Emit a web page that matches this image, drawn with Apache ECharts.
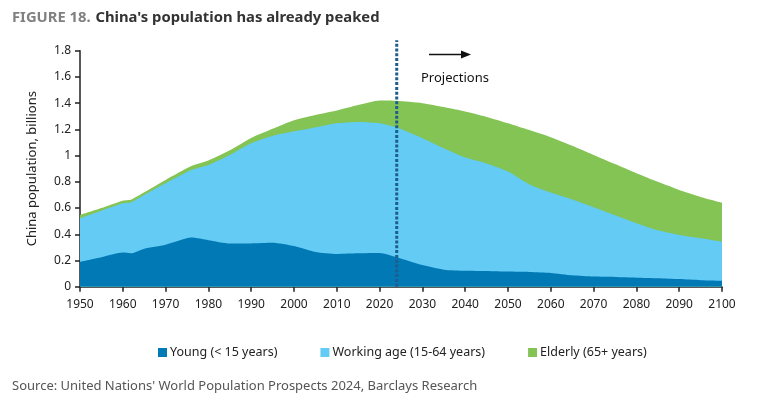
<!DOCTYPE html>
<html>
<head>
<meta charset="utf-8">
<script src="https://cdn.jsdelivr.net/npm/echarts@6/dist/echarts.min.js"></script>
<style>
  html, body { margin: 0; padding: 0; background: #fff; }
  #chart { width: 758px; height: 404px; }
</style>
</head>
<body>
<div id="chart"></div>
<script>
// values, billions
const years = [1950, 1955, 1960, 1962, 1965, 1970, 1976, 1980, 1985, 1990, 1995, 2000, 2005, 2010, 2015, 2020, 2024,
  2030, 2035, 2040, 2045, 2050, 2055, 2060, 2065, 2070, 2075, 2080, 2085, 2090, 2095, 2100];
const young = [0.19, 0.225, 0.26, 0.255, 0.29, 0.32, 0.375, 0.355, 0.33, 0.33, 0.335, 0.31, 0.265, 0.25, 0.255, 0.257, 0.225,
  0.165, 0.13, 0.122, 0.12, 0.115, 0.112, 0.105, 0.087, 0.077, 0.074, 0.069, 0.065, 0.058, 0.05, 0.046];
const working = [0.332, 0.355, 0.377, 0.39, 0.41, 0.469, 0.515, 0.574, 0.675, 0.765, 0.815, 0.875, 0.95, 0.997, 1.002, 0.99, 0.989,
  0.968, 0.926, 0.863, 0.82, 0.763, 0.668, 0.613, 0.578, 0.529, 0.471, 0.415, 0.365, 0.337, 0.32, 0.298];
const elderly = [0.025, 0.02, 0.019, 0.02, 0.02, 0.025, 0.03, 0.033, 0.035, 0.04, 0.055, 0.085, 0.095, 0.097, 0.128, 0.173, 0.204,
  0.267, 0.314, 0.351, 0.355, 0.369, 0.415, 0.422, 0.41, 0.399, 0.39, 0.382, 0.37, 0.343, 0.315, 0.297];
const projectionStart = 2024;

const colors = {
  young: '#0079b5',
  working: '#63cbf4',
  elderly: '#84c455',
  marker: '#1d5e8c',
  text: '#222',
};
const font = 'Noto Sans';

// stack by hand: each band is drawn as an area down to zero, top band first
const topWorking = young.map((v, i) => v + working[i]);
const topElderly = topWorking.map((v, i) => v + elderly[i]);

function pairs(vals) {
  return years.map((y, i) => [y, +vals[i].toFixed(4)]);
}

function areaSeries(name, vals, color, z) {
  return {
    name: name,
    type: 'line',
    z: z,
    smooth: 0.2,
    showSymbol: false,
    symbol: 'none',
    lineStyle: { width: 0 },
    areaStyle: { color: color, opacity: 1 },
    itemStyle: { color: color },
    emphasis: { disabled: true },
    data: pairs(vals),
  };
}

const chart = echarts.init(document.getElementById('chart'));

const series = [
  areaSeries('Elderly (65+ years)', topElderly, colors.elderly, 2),
  areaSeries('Working age (15-64 years)', topWorking, colors.working, 3),
  areaSeries('Young (< 15 years)', young, colors.young, 4),
  {
    // dotted line where projections start
    name: 'projection',
    type: 'line',
    z: 5,
    clip: false,
    silent: true,
    showSymbol: false,
    symbol: 'none',
    lineStyle: { color: colors.marker, width: 3, type: [3, 1.8] },
    data: [[projectionStart, 0], [projectionStart, 1.88]],
  },
];

chart.setOption({
  animation: false,
  textStyle: { fontFamily: font },
  title: {
    left: 7,
    top: 4,
    text: '{a|FIGURE 18.} {b|China\'s population has already peaked}',
    textStyle: {
      rich: {
        a: { fontFamily: font, fontSize: 14.8, fontWeight: 'bold', color: '#808080' },
        b: { fontFamily: font, fontSize: 14.8, fontWeight: 'bold', color: '#333' },
      },
    },
  },
  grid: { left: 80, right: 36, top: 50.7, bottom: 117.3 },
  legend: {
    left: 153,
    top: 341,
    icon: 'rect',
    itemWidth: 9,
    itemHeight: 9,
    itemGap: 43,
    textStyle: { fontFamily: font, fontSize: 12.5, color: colors.text, padding: [0, 0, 0, -2] },
    data: ['Young (< 15 years)', 'Working age (15-64 years)', 'Elderly (65+ years)'],
  },
  xAxis: {
    type: 'value',
    min: 1950,
    max: 2100,
    interval: 10,
    splitLine: { show: false },
    axisLine: { lineStyle: { color: colors.text, width: 1.5 } },
    axisTick: { show: true, length: 5, lineStyle: { color: colors.text, width: 1.5 } },
    axisLabel: { color: colors.text, fontSize: 12, margin: 12, fontFamily: font, formatter: (v) => String(v) },
  },
  yAxis: {
    type: 'value',
    min: 0,
    max: 1.8,
    interval: 0.2,
    name: 'China population, billions',
    nameLocation: 'middle',
    nameGap: 41,
    nameTextStyle: { color: colors.text, fontSize: 13, fontFamily: font },
    splitLine: { show: false },
    axisLine: { show: true, lineStyle: { color: colors.text, width: 1.5 } },
    axisTick: { show: true, length: 5, lineStyle: { color: colors.text, width: 1.5 } },
    axisLabel: { color: colors.text, fontSize: 12, margin: 9, fontFamily: font },
  },
  graphic: [
    {
      type: 'line',
      shape: { x1: 429, y1: 54.5, x2: 462, y2: 54.5 },
      style: { stroke: '#111', lineWidth: 1.5 },
    },
    {
      type: 'polygon',
      shape: { points: [[461, 50.5], [471, 54.5], [461, 58.5]] },
      style: { fill: '#111' },
    },
    {
      type: 'text',
      left: 421,
      top: 72,
      style: { text: 'Projections', fontSize: 13, fontFamily: font, fill: '#111' },
    },
    {
      type: 'text',
      left: 12,
      top: 380,
      style: {
        text: 'Source: United Nations\' World Population Prospects 2024, Barclays Research',
        fontSize: 13,
        fontFamily: font,
        fill: '#555',
      },
    },
  ],
  series: series,
});
</script>
</body>
</html>
